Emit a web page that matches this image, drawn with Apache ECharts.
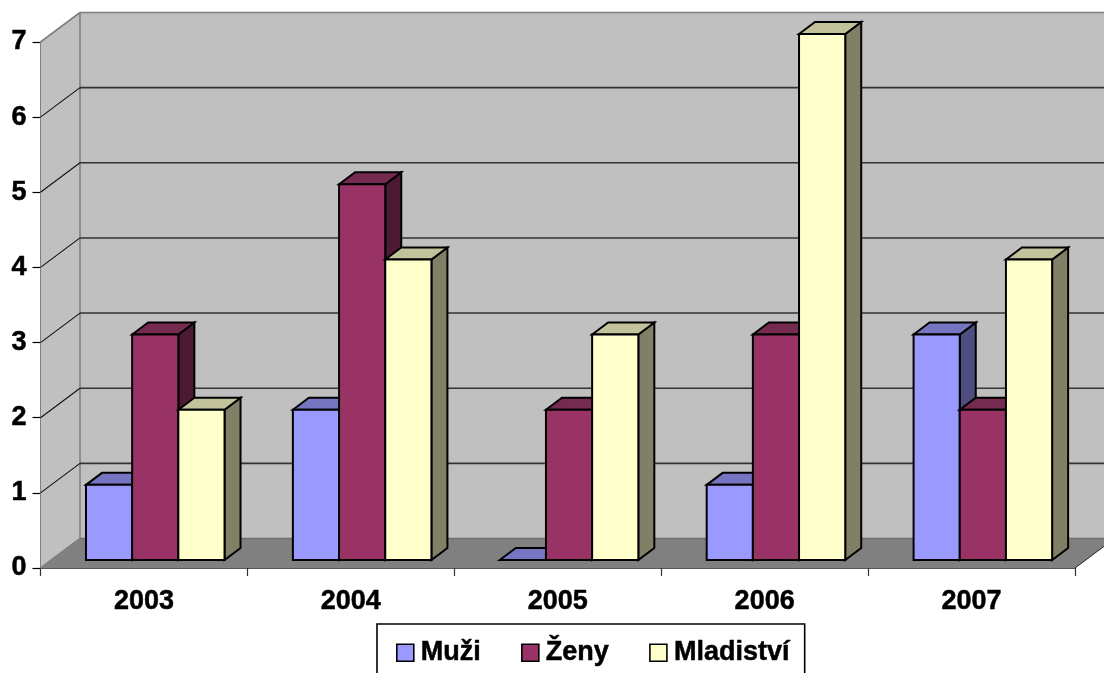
<!DOCTYPE html>
<html>
<head>
<meta charset="utf-8">
<style>html,body{margin:0;padding:0;background:#fff}#c{width:1104px;height:673px}</style>
<script src="https://cdn.jsdelivr.net/npm/echarts@6/dist/echarts.min.js"></script>
</head>
<body>
<div id="c"></div>
<script>
const years = ['2003', '2004', '2005', '2006', '2007'];
const muzi = [1, 2, 0, 1, 3];
const zeny = [3, 5, 2, 3, 2];
const mladistvi = [2, 4, 3, 7, 4];
const yTicks = [0, 1, 2, 3, 4, 5, 6, 7];

const FONT = '"Liberation Sans", Arial, sans-serif';
const WALL_DX = 39.5, WALL_DY = -29.5;   // depth of the chart box
const BAR_DX = 16, BAR_DY = -12;         // depth of a bar
const SHIFT_X = 11.3, SHIFT_Y = -8;      // bars stand inside the floor
const BAR_RATIO = 0.2232;

const poly = (pts, fill, stroke, lw) => ({
  type: 'polygon',
  shape: { points: pts },
  style: { fill: fill, stroke: stroke || null, lineWidth: lw || 0, lineJoin: 'miter' }
});
const line = (a, b, stroke, lw) => ({
  type: 'line',
  shape: { x1: a[0], y1: a[1], x2: b[0], y2: b[1] },
  style: { stroke: stroke, lineWidth: lw }
});

function renderBox(params, api) {
  const g = params.coordSys;
  const x0 = g.x, x1 = g.x + g.width, yTop = g.y, yBot = g.y + g.height;
  const kids = [];
  if (params.dataIndex === 0) {
    kids.push(
      poly([[x0 + WALL_DX, yTop + WALL_DY], [x1 + WALL_DX, yTop + WALL_DY], [x1 + WALL_DX, yBot + WALL_DY], [x0 + WALL_DX, yBot + WALL_DY]], '#c0c0c0'),
      poly([[x0, yTop], [x0 + WALL_DX, yTop + WALL_DY], [x0 + WALL_DX, yBot + WALL_DY], [x0, yBot]], '#c0c0c0'),
      poly([[x0, yBot], [x0 + WALL_DX, yBot + WALL_DY], [x1 + WALL_DX, yBot + WALL_DY], [x1, yBot]], '#808080'),
      line([x0, yTop], [x0 + WALL_DX, yTop + WALL_DY], '#808080', 1.6),
      line([x0 + WALL_DX, yTop + WALL_DY], [x1 + WALL_DX, yTop + WALL_DY], '#808080', 1.6),
      line([x0 + WALL_DX, yTop + WALL_DY], [x0 + WALL_DX, yBot + WALL_DY], '#808080', 1.6),
      line([x0, yBot], [x0 + WALL_DX, yBot + WALL_DY], '#808080', 1.6),
      line([x1, yBot], [x1 + WALL_DX, yBot + WALL_DY], '#222', 1)
    );
  }
  const y = api.coord([0, api.value(0)])[1];
  const v = api.value(0);
  if (v === 0) {
    kids.push(line([x0 + WALL_DX, y + WALL_DY], [x1 + WALL_DX, y + WALL_DY], '#6e6e6e', 1.6));
  } else if (v < yTicks[yTicks.length - 1]) {
    kids.push(line([x0 + WALL_DX, y + WALL_DY], [x1 + WALL_DX, y + WALL_DY], '#333', 1.6));
    kids.push(line([x0, y], [x0 + WALL_DX, y + WALL_DY], '#111', 1.1));
  }
  return { type: 'group', children: kids };
}

function barRenderer(slot, front, top, side) {
  return function (params, api) {
    const cat = api.value(0), val = api.value(1);
    const band = api.size([1, 0])[0];
    const w = band * BAR_RATIO;
    const base = api.coord([cat, 0]);
    const head = api.coord([cat, val]);
    const l = base[0] + SHIFT_X + (slot - 1.5) * w;
    const r = l + w;
    const b = base[1] + SHIFT_Y;
    const t = head[1] + SHIFT_Y;
    const S = '#000', LW = 2;
    const kids = [];
    kids.push(poly([[r, t], [r + BAR_DX, t + BAR_DY], [r + BAR_DX, b + BAR_DY], [r, b]], side, S, LW));
    kids.push(poly([[l, t], [l + BAR_DX, t + BAR_DY], [r + BAR_DX, t + BAR_DY], [r, t]], top, S, LW));
    if (val > 0) kids.push(poly([[l, t], [r, t], [r, b], [l, b]], front, S, LW));
    return { type: 'group', children: kids };
  };
}

const barSeries = (name, values, slot, front, top, side) => ({
  name: name,
  type: 'custom',
  coordinateSystem: 'cartesian2d',
  encode: { x: 0, y: 1 },
  data: values.map((v, i) => [i, v]),
  itemStyle: { color: front },
  renderItem: barRenderer(slot, front, top, side),
  clip: false,
  z: 3
});

const boldText = {
  color: '#000', fontFamily: FONT, fontWeight: 'bold', fontSize: 27,
  textBorderColor: '#000', textBorderWidth: 0.5
};

const chart = echarts.init(document.getElementById('c'), null, { renderer: 'canvas' });
chart.setOption({
  animation: false,
  backgroundColor: '#ffffff',
  textStyle: { fontFamily: FONT },
  grid: { left: 40.5, right: 29, top: 42, bottom: 105, containLabel: false },
  xAxis: {
    type: 'category',
    data: years,
    boundaryGap: true,
    axisLine: { show: true, lineStyle: { color: '#222', width: 1.6 } },
    axisTick: { show: true, alignWithLabel: false, length: 8, lineStyle: { color: '#333', width: 1.2 } },
    axisLabel: Object.assign({}, boldText, { margin: 20 }),
    splitLine: { show: false }
  },
  yAxis: {
    type: 'value',
    min: 0,
    max: 7,
    interval: 1,
    axisLine: { show: true, lineStyle: { color: '#111', width: 1.6 } },
    axisTick: { show: true, length: 8, lineStyle: { color: '#000', width: 1.2 } },
    axisLabel: Object.assign({}, boldText, { margin: 14 }),
    splitLine: { show: false }
  },
  legend: {
    data: ['Muži', 'Ženy', 'Mladiství'],
    left: 377,
    top: 624,
    orient: 'horizontal',
    padding: [15, 15, 34, 19],
    itemWidth: 17,
    itemHeight: 17,
    itemGap: 40,
    icon: 'rect',
    borderColor: '#000',
    borderWidth: 1.6,
    backgroundColor: '#fff',
    itemStyle: { borderColor: '#000', borderWidth: 1.6 },
    textStyle: Object.assign({}, boldText, { padding: [0, 0, 0, 2] })
  },
  series: [
    {
      name: 'box',
      type: 'custom',
      coordinateSystem: 'cartesian2d',
      encode: { y: 0 },
      data: yTicks.map(v => [v]),
      renderItem: renderBox,
      clip: false,
      silent: true,
      z: 1
    },
    barSeries('Muži', muzi, 0, '#9999ff', '#7575c2', '#4d4d80'),
    barSeries('Ženy', zeny, 1, '#993366', '#752a4f', '#4d1a33'),
    barSeries('Mladiství', mladistvi, 2, '#ffffcc', '#c2c29b', '#808066')
  ]
});
</script>
</body>
</html>
